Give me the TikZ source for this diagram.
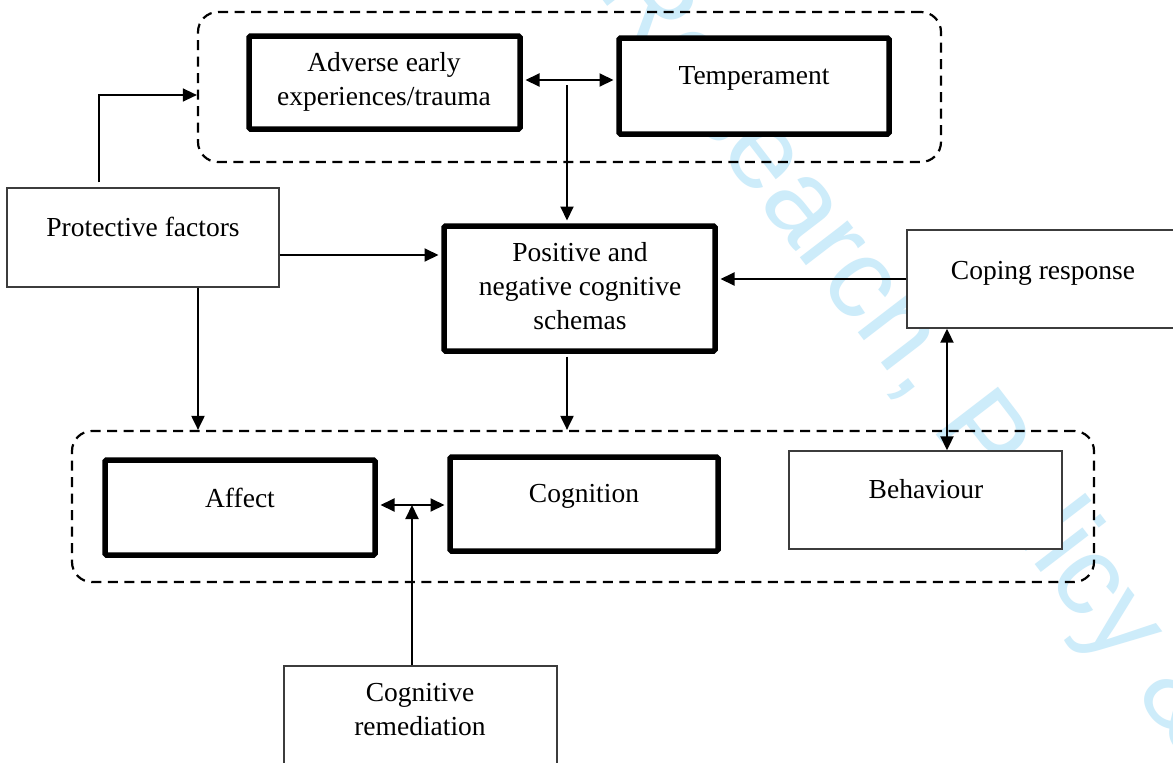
\documentclass[tikz,border=0pt]{standalone}
\usepackage{fontspec}
\setmainfont{Liberation Serif}
\newfontfamily\wmfont{Liberation Sans}
\usetikzlibrary{arrows.meta}
\definecolor{wmblue}{RGB}{205,236,250}
\definecolor{thingray}{RGB}{60,60,60}
\begin{document}
\begin{tikzpicture}[x=1pt,y=-1pt,
  thickbox/.style={draw=black, line width=5.5pt, fill=white, rounded corners=1.5pt, inner sep=0pt},
  thinbox/.style={draw=thingray, line width=1.4pt, fill=white, inner sep=0pt},
  group/.style={draw=black, line width=2.2pt, dash pattern=on 10pt off 6.5pt, rounded corners=20pt, inner sep=0pt},
  lbl/.style={font=\fontsize{27.5}{34}\selectfont, align=center, inner sep=0pt, anchor=base},
  tip/.style={-{Triangle[length=14pt,width=13pt]}},
  arr/.style={line width=2pt, tip},
  thinarr/.style={line width=1.4pt, tip},
  darr/.style={line width=2pt, {Triangle[length=14pt,width=13pt]}-{Triangle[length=14pt,width=13pt]}},
]
\useasboundingbox (0,0) rectangle (1173,763);
\fill[white] (0,0) rectangle (1173,763);
\clip (0,0) rectangle (1173,763);

% watermark
\node[font=\wmfont\fontsize{114}{114}\selectfont, text=wmblue, inner sep=0pt,
      anchor=base west, rotate=-52.5] (wm) at (595,-10) {Research, Policy \&};

% groups
\node[group, minimum width=743pt, minimum height=150pt] (topgrp) at (569.5,87) {};
\node[group, minimum width=1022pt, minimum height=151pt] (botgrp) at (583,506.5) {};

% boxes
\node[thickbox, minimum width=271pt, minimum height=93pt] (adv) at (384.5,82.5) {};
\node[thickbox, minimum width=270pt, minimum height=96pt] (temp) at (754,86) {};
\node[thickbox, minimum width=271pt, minimum height=125pt] (pos) at (579.5,288.5) {};
\node[thickbox, minimum width=270pt, minimum height=95pt] (aff) at (240,507.5) {};
\node[thickbox, minimum width=268pt, minimum height=94pt] (cog) at (584,504) {};
\node[thinbox, minimum width=272pt, minimum height=99pt] (prot) at (143,237.5) {};
\node[thinbox, minimum width=273pt, minimum height=98pt] (cop) at (1043.5,279) {};
\node[thinbox, minimum width=273pt, minimum height=98pt] (beh) at (925.5,500) {};
\node[thinbox, minimum width=273pt, minimum height=134pt] (rem) at (420.5,733) {};

% labels (base = baseline of the last line)
\node[lbl] (tadv) at (384,105) {Adverse early\\experiences/trauma};
\node[lbl] (ttemp) at (754,84) {Temperament};
\node[lbl] (tpos) at (580,329) {Positive and\\negative cognitive\\schemas};
\node[lbl] (tprot) at (143,236) {Protective factors};
\node[lbl] (tcop) at (1043,279) {Coping response};
\node[lbl] (tbeh) at (926,498) {Behaviour};
\node[lbl] (taff) at (240,507) {Affect};
\node[lbl] (tcog) at (584,502) {Cognition};
\node[lbl] (trem) at (420,735) {Cognitive\\remediation};

% helper coordinates
\coordinate (pfup) at (99,95);
\coordinate (split) at (567,85);
\coordinate (ya) at (0,80);
\coordinate (yb) at (0,255);
\coordinate (xc) at (947,0);
\coordinate (xd) at (198,0);
\coordinate (mid) at (412,505);

% connectors
\draw[thinarr, shorten <=5pt] (prot.north -| pfup) -- (pfup) -- (topgrp.west |- pfup);
\draw[darr, shorten <=2.75pt, shorten >=2.75pt] (adv.east |- ya) -- (temp.west |- ya);
\draw[arr, shorten >=2.75pt] (split) -- (pos.north -| split);
\draw[arr, shorten >=2.75pt] (prot.east |- yb) -- (pos.west |- yb);
\draw[arr, shorten >=2.75pt] (cop.west) -- (pos.east |- cop.west);
\draw[darr] (cop.south -| xc) -- (beh.north -| xc);
\draw[arr, shorten <=2.75pt] (pos.south -| split) -- (botgrp.north -| split);
\draw[arr] (prot.south -| xd) -- (botgrp.north -| xd);
\draw[darr, shorten <=2.75pt, shorten >=2.75pt] (aff.east |- mid) -- (cog.west |- mid);
\draw[arr] (rem.north -| mid) -- (mid);
\end{tikzpicture}
\end{document}
